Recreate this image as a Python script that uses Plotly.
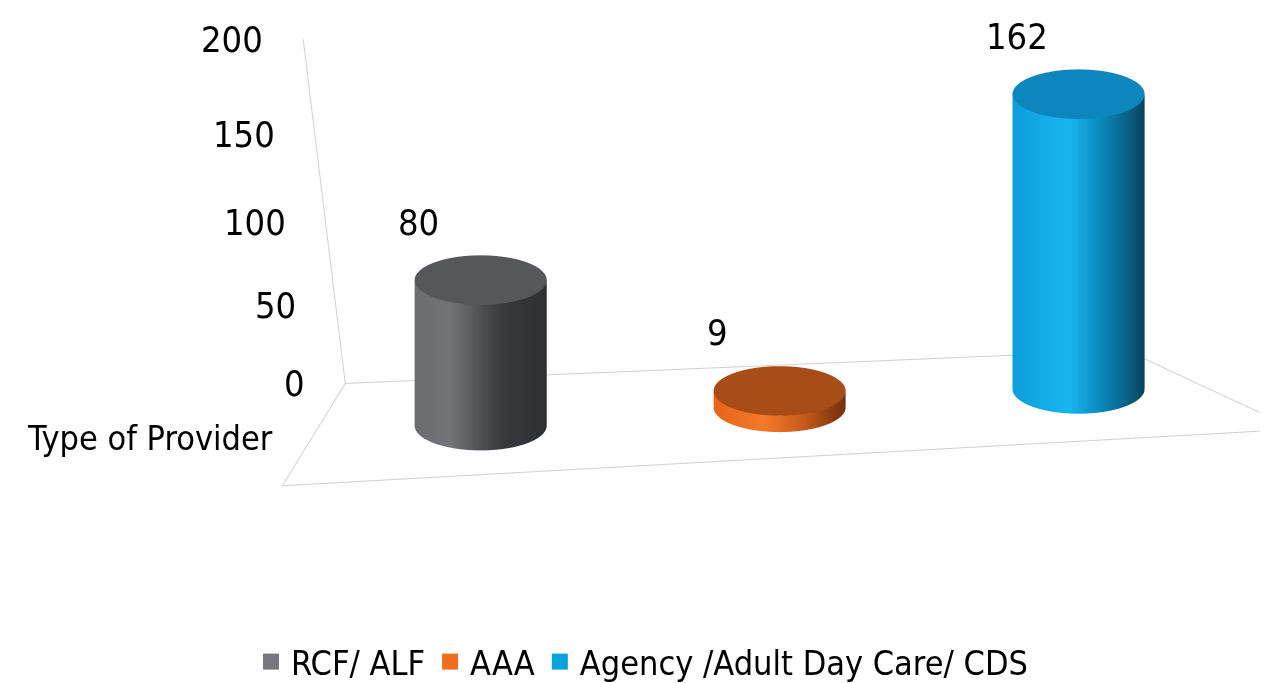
import numpy as np
import plotly.graph_objects as go

# ---------------- data ----------------
categories = ["RCF/ ALF", "AAA", "Agency /Adult Day Care/ CDS"]
values = [80, 9, 162]
legend_colors = ["#77787c", "#f26c1e", "#0aa2dc"]
top_colors = ["#56575b", "#a84c18", "#0c86bd"]
side_scales = [
    [[0, "#6c6d71"], [0.2, "#737478"], [0.45, "#4a4b4f"], [0.6, "#38393c"], [1, "#2d2e31"]],
    [[0, "#e8651a"], [0.3, "#f47a2a"], [0.6, "#c85a1a"], [0.85, "#8a3c10"], [1, "#6e300c"]],
    [[0, "#0e9fdc"], [0.35, "#19b6f0"], [0.6, "#0a86bb"], [0.85, "#0a5a7c"], [1, "#073f55"]],
]
z_ticks = [0, 50, 100, 150, 200]
axis_title = "Type of Provider"

FONT = "Liberation Sans Narrow, DejaVu Sans Condensed, Roboto Condensed, Liberation Sans, sans-serif"
LABEL_SIZE = 36
TEXT_SIZE = 34

# ---------------- scene geometry ----------------
x_range = [-0.5, 2.5]
y_range = [-0.5, 0.5]
z_range = [0, 200]
floor_aspect = dict(x=1.56, y=0.4, z=0.595)        # perspective scene: floor + value axis
bar_base = dict(x=1.5, y=0.4, z=0.648)             # orthographic scene: cylinders
ortho_zoom = 1.789
bar_aspect = {k: a * ortho_zoom for k, a in bar_base.items()}
r_norm = 0.109                                     # radius in un-zoomed normalised units
rx = r_norm * (x_range[1] - x_range[0]) / bar_base["x"]
ry = r_norm * (y_range[1] - y_range[0]) / bar_base["y"]

look_dir = np.array([0.1498, 0.9149, -0.375])
bar_center = np.array([-0.4213, -0.0682, -0.3344])
bar_eye = bar_center - 3.0 * look_dir

theta = np.linspace(0, 2 * np.pi, 120)
fig = go.Figure()

# floor outline and vertical axis line (perspective scene)
fx = [x_range[0], x_range[1], x_range[1], x_range[0], x_range[0]]
fy = [y_range[0], y_range[0], y_range[1], y_range[1], y_range[0]]
grid_line = dict(color="#d0d0d0", width=2)
fig.add_trace(go.Scatter3d(x=fx, y=fy, z=[z_range[0]] * 5, mode="lines", line=grid_line,
                           hoverinfo="skip", showlegend=False, scene="scene"))
fig.add_trace(go.Scatter3d(x=[x_range[0], x_range[0]], y=[y_range[1], y_range[1]],
                           z=z_range, mode="lines", line=grid_line,
                           hoverinfo="skip", showlegend=False, scene="scene"))

flat = dict(ambient=1, diffuse=0, specular=0, roughness=1, fresnel=0)
for i, (name, v) in enumerate(zip(categories, values)):
    X = np.vstack([i + rx * np.cos(theta)] * 2)
    Y = np.vstack([ry * np.sin(theta)] * 2)
    Z = np.vstack([np.zeros_like(theta), np.full_like(theta, v)])
    C = np.vstack([np.cos(theta)] * 2)
    fig.add_trace(go.Surface(x=X, y=Y, z=Z, surfacecolor=C, cmin=-1, cmax=1,
                             colorscale=side_scales[i], showscale=False,
                             lighting=flat, hoverinfo="skip", showlegend=False,
                             scene="scene2"))
    rr = np.array([0.0, 1.0])[:, None]
    Xt = i + rx * rr * np.cos(theta)[None, :]
    Yt = ry * rr * np.sin(theta)[None, :]
    Zt = np.full_like(Xt, v)
    fig.add_trace(go.Surface(x=Xt, y=Yt, z=Zt, surfacecolor=np.zeros_like(Xt),
                             colorscale=[[0, top_colors[i]], [1, top_colors[i]]],
                             showscale=False, lighting=flat, hoverinfo="skip",
                             showlegend=False, scene="scene2"))
    fig.add_trace(go.Scatter3d(x=[None], y=[None], z=[None], mode="markers", name=name,
                               marker=dict(symbol="square", size=24, color=legend_colors[i]),
                               hoverinfo="skip", scene="scene2"))

tick_annotations = [dict(x=x_range[0], y=y_range[1], z=t, text=str(t), showarrow=False,
                         xanchor="right", yanchor="middle", xshift=-38,
                         font=dict(family=FONT, size=LABEL_SIZE, color="#000000"))
                    for t in z_ticks]
value_annotations = [dict(x=i, y=0, z=v, text=str(v), showarrow=False,
                          xanchor="center", yanchor="middle", xshift=-62, yshift=58,
                          font=dict(family=FONT, size=LABEL_SIZE, color="#000000"))
                     for i, v in enumerate(values)]


def hidden(r):
    pad = 0.002 * (r[1] - r[0])
    return dict(visible=False, range=[r[0] - pad, r[1] + pad])


vec = lambda a: dict(x=float(a[0]), y=float(a[1]), z=float(a[2]))
fig.update_layout(
    width=1268, height=683,
    margin=dict(l=0, r=0, t=0, b=0),
    paper_bgcolor="white",
    font=dict(family=FONT, color="#000000"),
    scene=dict(
        domain=dict(x=[0, 1], y=[0, 1]),
        xaxis=hidden(x_range), yaxis=hidden(y_range), zaxis=hidden(z_range),
        aspectmode="manual", aspectratio=floor_aspect,
        camera=dict(eye=dict(x=-0.4086, y=-1.2673, z=0.2424),
                    center=dict(x=-0.2446, y=0.0607, z=-0.2036),
                    up=dict(x=0, y=0, z=1),
                    projection=dict(type="perspective")),
        annotations=tick_annotations,
        bgcolor="rgba(0,0,0,0)",
    ),
    scene2=dict(
        domain=dict(x=[0, 1], y=[0, 1]),
        xaxis=hidden(x_range), yaxis=hidden(y_range), zaxis=hidden(z_range),
        aspectmode="manual", aspectratio=bar_aspect,
        camera=dict(eye=vec(bar_eye), center=vec(bar_center),
                    up=dict(x=0, y=0, z=1),
                    projection=dict(type="orthographic")),
        annotations=value_annotations,
        bgcolor="rgba(0,0,0,0)",
    ),
    legend=dict(orientation="h", x=0.5, xanchor="center", y=0.038, yanchor="middle",
                font=dict(family=FONT, size=TEXT_SIZE, color="#000000"),
                itemsizing="trace", bgcolor="rgba(0,0,0,0)"),
    annotations=[dict(xref="paper", yref="paper", x=17 / 1268, y=1 - 432 / 683,
                      text=axis_title, showarrow=False, xanchor="left", yanchor="middle",
                      font=dict(family=FONT, size=TEXT_SIZE, color="#000000"))],
)

fig.write_html("out.html")
